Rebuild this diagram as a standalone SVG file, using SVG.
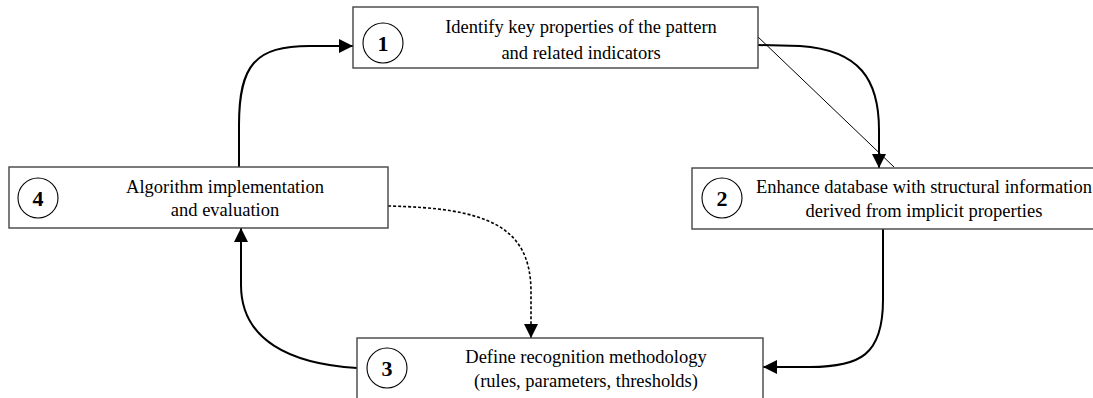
<svg xmlns="http://www.w3.org/2000/svg" width="1093" height="398" viewBox="0 0 1093 398">
<defs>
<marker id="ah" markerUnits="userSpaceOnUse" markerWidth="14" markerHeight="14" viewBox="0 0 14 14" refX="14" refY="7" orient="auto">
<path d="M0,0 L14,7 L0,14 Z" fill="#000"/>
</marker>
</defs>
<style>
.box{fill:#fff;stroke:#444;stroke-width:1.4}
.circ{fill:#fff;stroke:#000;stroke-width:1.1}
.num{font-family:"Liberation Serif","Times New Roman",serif;font-weight:bold;font-size:22px;text-anchor:middle;fill:#000}
.lbl{font-family:"Liberation Serif","Times New Roman",serif;font-size:18.5px;text-anchor:middle;fill:#000}
.con{fill:none;stroke:#000;stroke-width:2}
.dash{fill:none;stroke:#000;stroke-width:1.6;stroke-dasharray:3,2}
</style>
<rect width="1093" height="398" fill="#fff"/>
<g id="connectors">
<path class="con" d="M239,167 L239,125 C239,65 255,46 310,46 L353,46" marker-end="url(#ah)"/>
<path class="con" d="M758,45 L800,46 C860,50 879,80 879,130 L879,168" marker-end="url(#ah)"/>
<line x1="756" y1="35" x2="894" y2="167" stroke="#000" stroke-width="1"/>
<path class="con" d="M883,229 L883,300 C883,355 860,367 810,367 L763,367" marker-end="url(#ah)"/>
<path class="con" d="M357,368 C290,364 241,340 241,285 L241,228" marker-end="url(#ah)"/>
<path class="dash" d="M388,206 C485,208 530,225 531,290 L531,338" marker-end="url(#ah)"/>
</g>
<g id="node1">
<rect class="box" x="353" y="7" width="405" height="61"/>
<circle class="circ" cx="383" cy="43" r="20"/>
<text class="num" x="383" y="51">1</text>
<text class="lbl" x="581" y="33">Identify key properties of the pattern</text>
<text class="lbl" x="581" y="59">and related indicators</text>
</g>
<g id="node2">
<rect class="box" x="692" y="168" width="410" height="61"/>
<circle class="circ" cx="722" cy="198" r="20"/>
<text class="num" x="722" y="206">2</text>
<text class="lbl" x="924" y="193">Enhance database with structural information</text>
<text class="lbl" x="924" y="217">derived from implicit properties</text>
</g>
<g id="node4">
<rect class="box" x="9" y="167" width="379" height="61"/>
<circle class="circ" cx="38" cy="198" r="20"/>
<text class="num" x="38" y="206">4</text>
<text class="lbl" x="225" y="193">Algorithm implementation</text>
<text class="lbl" x="225" y="216">and evaluation</text>
</g>
<g id="node3">
<rect class="box" x="357" y="338" width="406" height="70"/>
<circle class="circ" cx="387" cy="368" r="20"/>
<text class="num" x="387" y="376">3</text>
<text class="lbl" x="586" y="363">Define recognition methodology</text>
<text class="lbl" x="586" y="387">(rules, parameters, thresholds)</text>
</g>
</svg>
